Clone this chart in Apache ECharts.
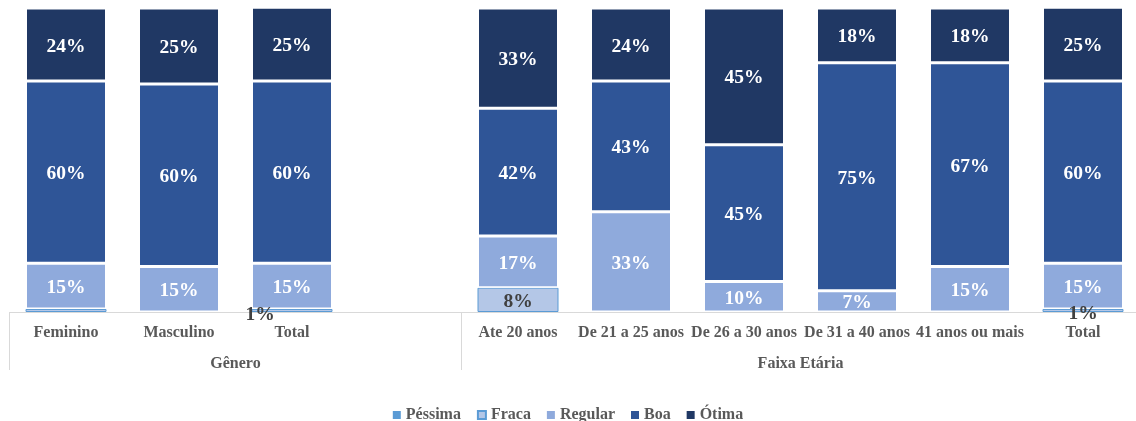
<!DOCTYPE html>
<html>
<head>
<meta charset="utf-8">
<script src="https://cdn.jsdelivr.net/npm/echarts@6/dist/echarts.min.js"></script>
<style>
  html, body { margin: 0; padding: 0; background: #fff; }
  #chart { width: 1136px; height: 421px; }
</style>
</head>
<body>
<div id="chart"></div>
<script>
// Survey rating shares (%) by gender and by age group
const categories = ['Feminino', 'Masculino', 'Total', '', 'Ate 20 anos', 'De 21 a 25 anos',
  'De 26 a 30 anos', 'De 31 a 40 anos', '41 anos ou mais', 'Total'];
const groupNames = ['Gênero', 'Faixa Etária'];
const groupSpans = [4, 6];

const seriesNames = ['Péssima', 'Fraca', 'Regular', 'Boa', 'Ótima'];
const pessima = [null, null, null, null, null, null, null, null, null, null];
const fraca   = [1, null, 1, null, 8, null, null, null, null, 1];
const regular = [15, 15, 15, null, 17, 33, 10, 7, 15, 15];
const boa     = [60, 60, 60, null, 42, 43, 45, 75, 67, 60];
const otima   = [24, 25, 25, null, 33, 24, 45, 18, 18, 25];

const serif = '"Liberation Serif", "Times New Roman", serif';
const grey = '#595959';

// second-level axis: group boundaries and group titles on an edge-aligned scale
const groupAxis = new Array(categories.length + 1).fill('');
const groupEdges = [0];
let pos = 0;
groupSpans.forEach((span, i) => {
  groupAxis[pos + span / 2] = groupNames[i];
  pos += span;
  groupEdges.push(pos);
});

function labelFmt(p) {
  return p.value == null ? '' : p.value + '%';
}

// Fraca: small segments get dark labels; first bar's sliver carries no label
const fracaData = fraca.map((v, i) => {
  const item = { value: v };
  if (i === 0) item.label = { show: false };
  if (i === 2) item.label = { offset: [-32, 4] };
  if (i === 9) item.label = { offset: [0, 3] };
  return item;
});

const colors = ['#5B9BD5', '#B4C7E7', '#8FAADC', '#2F5597', '#203864'];
const values = [pessima, fracaData, regular, boa, otima];

const series = seriesNames.map((name, k) => ({
  name: name,
  type: 'bar',
  stack: 'total',
  barWidth: 81,
  clip: true,
  data: values[k],
  itemStyle: k === 1
    ? { color: colors[k], borderColor: '#5B9BD5', borderWidth: 1 }
    : { color: colors[k], borderColor: '#ffffff', borderWidth: 1.5 },
  label: {
    show: true,
    position: 'inside',
    offset: [0, 2],
    formatter: labelFmt,
    fontFamily: serif,
    fontWeight: 'bold',
    fontSize: 19.5,
    color: (k <= 1) ? '#404040' : '#ffffff'
  },
  emphasis: { disabled: true }
}));

// legend swatches: solid squares, Fraca keeps its outline
const legendData = seriesNames.map((n, k) =>
  k === 1 ? { name: n } : { name: n, itemStyle: { borderWidth: 0 } });

const chart = echarts.init(document.getElementById('chart'), null, { renderer: 'canvas' });
chart.setOption({
  animation: false,
  color: colors,
  grid: {
    left: 9.5, top: 8, width: 1130, height: 304,
    containLabel: false,
    outerBoundsMode: 'none'
  },
  legend: {
    data: legendData,
    left: 'center',
    top: 402,
    icon: 'rect',
    itemWidth: 8,
    itemHeight: 8,
    itemGap: 16,
    textStyle: { fontFamily: serif, fontWeight: 'bold', fontSize: 16, color: grey }
  },
  xAxis: [
    {
      type: 'category',
      data: categories,
      axisLine: { show: true, lineStyle: { color: '#D9D9D9', width: 1 } },
      axisTick: { show: false },
      axisLabel: {
        interval: 0,
        margin: 13,
        fontFamily: serif,
        fontWeight: 'bold',
        fontSize: 16,
        color: grey
      }
    },
    {
      type: 'category',
      position: 'bottom',
      data: groupAxis,
      boundaryGap: false,
      axisLine: { show: false },
      axisTick: {
        show: true,
        length: 58,
        interval: (idx) => groupEdges.indexOf(idx) >= 0,
        lineStyle: { color: '#D9D9D9', width: 1 }
      },
      axisLabel: {
        interval: 0,
        margin: 44,
        fontFamily: serif,
        fontWeight: 'bold',
        fontSize: 16,
        color: grey
      }
    }
  ],
  yAxis: {
    type: 'value',
    min: 0,
    max: 100,
    show: false
  },
  series: series
});
</script>
</body>
</html>
